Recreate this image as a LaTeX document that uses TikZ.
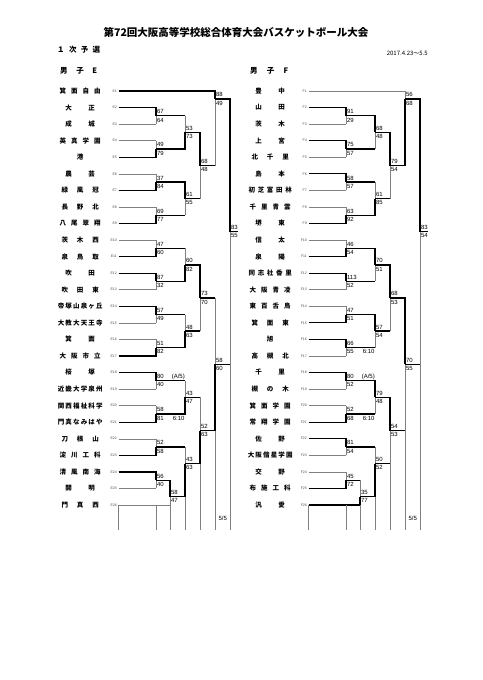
\documentclass[tikz,border=0pt]{standalone}
\usepackage{fontspec}
\setmainfont{Liberation Sans}
\newfontfamily\jp{Noto Sans CJK JP}
\usetikzlibrary{positioning}

% spread the characters of a school name over the name column
\makeatletter
\newcommand\dist[1]{\makebox[46pt][s]{\hskip0pt plus .5fil\relax\expandafter\dist@a#1\relax}}
\def\dist@a#1#2{#1\ifx#2\relax\hskip0pt plus .5fil\relax\else\hfil\expandafter\dist@a\expandafter#2\fi}
\makeatother

\tikzset{
  lose/.style={black!50, line width=0.5pt},
  win/.style={black, line width=1.3pt},
  school/.style={font=\jp\bfseries\fontsize{6.5}{7}\selectfont, inner sep=0pt, anchor=west},
  slot/.style={font=\fontsize{3.5}{4}\selectfont, black!70, inner sep=0pt, anchor=east},
  score/.style={font=\fontsize{6}{7}\selectfont, inner sep=0.3pt},
  note/.style={font=\fontsize{6}{7}\selectfont, inner sep=0.3pt},
}

% one game: [loser stub style]{name}{top entry}{bottom entry}{column}{exit}{top score}{bottom score}
\newcommand\bout[8][win]{%
  \coordinate (#2) at (#5,#6);
  \ifnum#7>#8\relax
    \draw[#1] (#4) -- (#4 -| #2);
    \draw[lose] (#4 -| #2) -- (#2);
    \draw[win] (#3) -- (#3 -| #2) -- (#2);
  \else
    \draw[#1] (#3) -- (#3 -| #2);
    \draw[lose] (#3 -| #2) -- (#2);
    \draw[win] (#4) -- (#4 -| #2) -- (#2);
  \fi
  \node[score, anchor=south west] (#2s1) at ([xshift=0.6pt, yshift=1.5pt]#2) {#7};
  \node[score, anchor=north west] (#2s2) at ([xshift=0.6pt, yshift=-1.5pt]#2) {#8};
}

\begin{document}
\begin{tikzpicture}[x=1pt, y=-1pt]
  \fill[white] (0,0) rectangle (482,680);
  \useasboundingbox (0,0) rectangle (482,680);
  % --- en-tete ---
  \node[font=\jp\bfseries\fontsize{10.5}{12}\selectfont] (title) at (236,33) {第72回大阪高等学校総合体育大会バスケットボール大会};
  \node[font=\jp\bfseries\fontsize{7.5}{9}\selectfont, anchor=west, inner sep=0pt] (stage) at (57,50) {\makebox[43pt][s]{１\hfil 次\hfil 予\hfil 選}};
  \node[font=\jp\fontsize{6}{7}\selectfont, anchor=east, inner sep=0pt] (dates) at (428,53) {2017.4.23～5.5};
  \node[font=\jp\bfseries\fontsize{7.5}{9}\selectfont, anchor=west, inner sep=0pt] (blockE) at (60,71) {\makebox[37pt][s]{男\hfil 子\hfil E}};
  \node[font=\jp\bfseries\fontsize{7.5}{9}\selectfont, anchor=west, inner sep=0pt] (blockF) at (250,71) {\makebox[38pt][s]{男\hfil 子\hfil F}};

  % --- equipes ---
  \foreach \nm [count=\i] in {箕面自由,大正,成城,英真学園,港,農芸,緑風冠,長野北,八尾翠翔,茨木西,泉鳥取,吹田,吹田東,帝塚山泉ヶ丘,大教大天王寺,箕面,大阪市立,桜塚,近畿大学泉州,関西福祉科学,門真なみはや,刀根山,淀川工科,清風南海,開明,門真西} {
    \pgfmathsetmacro\ry{91+(\i-1)*16.56}
    \node[school] (ne\i) at (57,\ry) {\dist{\nm}};
    \node[slot] (le\i) at (117,\ry) {E\i};
    \coordinate (e\i) at (118.5,\ry);
  }
  \foreach \nm [count=\i] in {豊中,山田,茨木,上宮,北千里,島本,初芝富田林,千里青雲,堺東,信太,泉陽,同志社香里,大阪青凌,東百舌鳥,箕面東,旭,高槻北,千里,槻の木,箕面学園,常翔学園,佐野,大阪偕星学園,交野,布施工科,汎愛} {
    \pgfmathsetmacro\ry{91+(\i-1)*16.56}
    \node[school] (nf\i) at (247,\ry) {\dist{\nm}};
    \node[slot] (lf\i) at (307,\ry) {F\i};
    \coordinate (f\i) at (308.5,\ry);
  }

  % --- bloc E ---
  \bout[lose]{ea1}{e2}{e3}{156}{115.84}{67}{64}
  \bout[lose]{ea2}{e4}{e5}{156}{148.96}{49}{79}
  \bout[lose]{ea3}{e6}{e7}{156}{182.08}{37}{84}
  \bout[lose]{ea4}{e8}{e9}{156}{215.20}{69}{77}
  \bout[lose]{ea5}{e10}{e11}{156}{248.32}{47}{60}
  \bout[lose]{ea6}{e12}{e13}{156}{281.44}{87}{32}
  \bout[lose]{ea7}{e14}{e15}{156}{314.56}{57}{49}
  \bout[lose]{ea8}{e16}{e17}{156}{347.68}{51}{82}
  \bout[lose]{ea9}{e18}{e19}{156}{380.80}{80}{40}
  \bout[lose]{ea10}{e20}{e21}{156}{413.92}{58}{81}
  \bout[lose]{ea11}{e22}{e23}{156}{447.04}{52}{58}
  \bout[lose]{ea12}{e24}{e25}{156}{480.16}{56}{40}
  \bout[lose]{ea13}{ea12}{e26}{170}{496.7}{58}{47}
  \bout{eb1}{ea1}{ea2}{185}{132.4}{53}{73}
  \bout{eb2}{ea3}{ea4}{185}{198.64}{61}{55}
  \bout{eb3}{ea5}{ea6}{185}{264.88}{60}{82}
  \bout{eb4}{ea7}{ea8}{185}{331.12}{48}{63}
  \bout{eb5}{ea9}{ea10}{185}{397.36}{43}{47}
  \bout{eb6}{ea11}{ea13}{185}{463.7}{43}{63}
  \bout{ec1}{eb1}{eb2}{200}{165.5}{68}{48}
  \bout{ec2}{eb3}{eb4}{200}{298}{73}{70}
  \bout{ec3}{eb5}{eb6}{200}{430.5}{52}{63}
  \bout{ed1}{e1}{ec1}{215}{99}{88}{49}
  \bout{ed2}{ec2}{ec3}{215}{364.25}{58}{60}
  \bout{ef}{ed1}{ed2}{230}{231.6}{83}{55}
  \coordinate (ewin) at (238,231.6);
  \draw[win] (ef) -- (ewin);
  \node[note, right=7pt of ea9s1] (ea9n) {(A/5)};
  \node[note, right=8pt of ea10s2] (ea10n) {6:10};

  % --- bloc F ---
  \bout[lose]{fa1}{f2}{f3}{346}{115.84}{91}{29}
  \bout[lose]{fa2}{f4}{f5}{346}{148.96}{75}{57}
  \bout[lose]{fa3}{f6}{f7}{346}{182.08}{58}{57}
  \bout[lose]{fa4}{f8}{f9}{346}{215.20}{63}{92}
  \bout[lose]{fa5}{f10}{f11}{346}{248.32}{46}{54}
  \bout[lose]{fa6}{f12}{f13}{346}{281.44}{113}{52}
  \bout[lose]{fa7}{f14}{f15}{346}{314.56}{47}{51}
  \bout[lose]{fa8}{f16}{f17}{346}{347.68}{66}{55}
  \bout[lose]{fa9}{f18}{f19}{346}{380.80}{80}{52}
  \bout[lose]{fa10}{f20}{f21}{346}{413.92}{52}{68}
  \bout[lose]{fa11}{f22}{f23}{346}{447.04}{81}{54}
  \bout[lose]{fa12}{f24}{f25}{346}{480.16}{45}{72}
  \bout{fa13}{fa12}{f26}{360}{496.7}{35}{77}
  \bout{fb1}{fa1}{fa2}{375}{132.4}{68}{48}
  \bout{fb2}{fa3}{fa4}{375}{198.64}{61}{85}
  \bout{fb3}{fa5}{fa6}{375}{264.88}{70}{51}
  \bout{fb4}{fa7}{fa8}{375}{331.12}{57}{54}
  \bout{fb5}{fa9}{fa10}{375}{397.36}{79}{48}
  \bout{fb6}{fa11}{fa13}{375}{463.7}{50}{52}
  \bout{fc1}{fb1}{fb2}{390}{165.5}{79}{54}
  \bout{fc2}{fb3}{fb4}{390}{298}{68}{53}
  \bout{fc3}{fb5}{fb6}{390}{430.5}{54}{53}
  \bout[lose]{fd1}{f1}{fc1}{405}{99}{56}{68}
  \bout{fd2}{fc2}{fc3}{405}{364.25}{70}{55}
  \bout{ff}{fd1}{fd2}{420}{231.6}{83}{54}
  \coordinate (fwin) at (428,231.6);
  \draw[win] (ff) -- (fwin);
  \node[note, right=8pt of fa8s2] (fa8n) {6:10};
  \node[note, right=7pt of fa9s1] (fa9n) {(A/5)};
  \node[note, right=8pt of fa10s2] (fa10n) {6:10};

  % --- colonnes du bas ---
  \coordinate (base) at (0,530);
  \draw[lose] (e26) -- (e26 |- base);
  \draw[lose] (e26 -| ea12) -- (ea12 |- base);
  \draw[lose] (e26 -| ea13) -- (ea13 |- base);
  \draw[lose] (ea13 -| eb6) -- (eb6 |- base);
  \draw[lose] (eb6 -| ec3) -- (ec3 |- base);
  \draw[lose] (ec3 -| ed2) -- (ed2 |- base);
  \draw[lose] (ed2 -| ef) -- (ef |- base);
  \draw[lose] (f26) -- (f26 |- base);
  \draw[lose] (f26 -| fa12) -- (fa12 |- base);
  \draw[lose] (f26 -| fa13) -- (fa13 |- base);
  \draw[lose] (fa13 -| fb6) -- (fb6 |- base);
  \draw[lose] (fb6 -| fc3) -- (fc3 |- base);
  \draw[lose] (fc3 -| fd2) -- (fd2 |- base);
  \draw[lose] (fd2 -| ff) -- (ff |- base);
  \node[note] (e55) at (222.7,518) {5/5};
  \node[note] (f55) at (412.7,518) {5/5};
\end{tikzpicture}
\end{document}
